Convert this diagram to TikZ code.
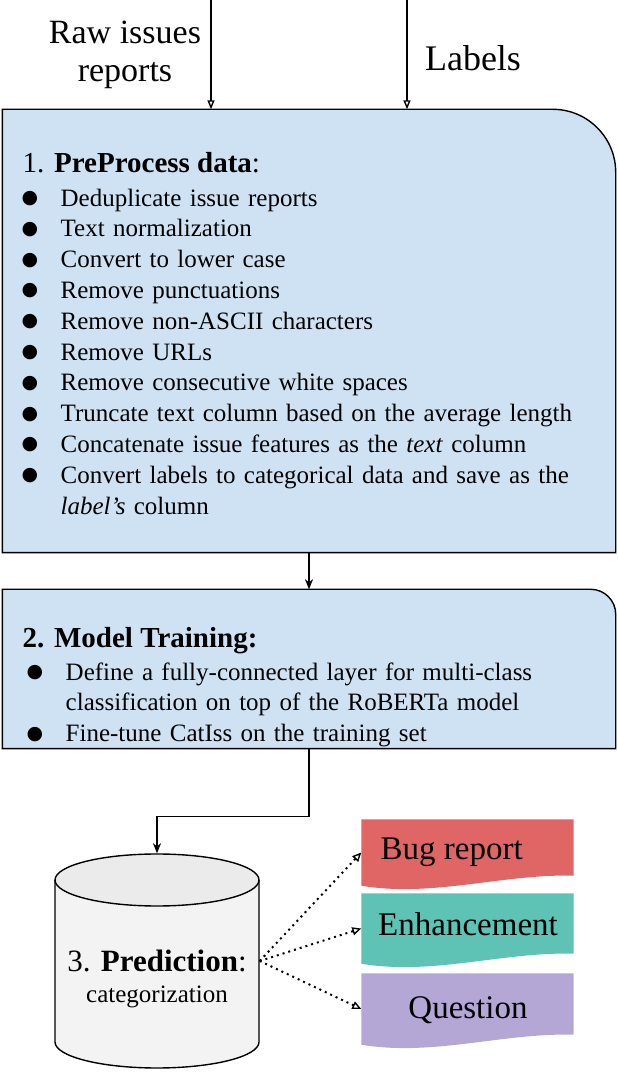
\documentclass[tikz,border=0pt]{standalone}
\usepackage{fontspec}
\setmainfont{Liberation Serif}
\newfontfamily\symfont{DejaVu Sans}
\usepackage{tikz}
\usetikzlibrary{arrows.meta}

\definecolor{stageblue}{HTML}{CFE2F3}
\definecolor{bugred}{HTML}{E06666}
\definecolor{enhteal}{HTML}{5EC3B5}
\definecolor{quepurple}{HTML}{B4A7D6}
\definecolor{cylgray}{HTML}{F3F3F3}
\definecolor{cyltop}{HTML}{EBEBEB}

\newcommand{\itemfont}{\fontsize{25}{30.8}\selectfont}
\newcommand{\titlefont}{\fontsize{29}{35}\selectfont}
\newcommand{\bigfont}{\fontsize{31}{38}\selectfont}
\newcommand{\docfont}{\fontsize{33}{40}\selectfont}
% one bullet line, wrapped lines hang under the text
\newcommand{\bul}{\par\hangindent=38pt\hangafter=1\noindent\strut
  \makebox[38pt][l]{\hspace{-1pt}\raisebox{2.5pt}{\symfont\fontsize{19}{19}\selectfont ●}}}

\begin{document}
\begin{tikzpicture}[x=1pt, y=1pt, line width=1.4pt,
    stagebox/.style={draw=none, minimum width=612pt, inner sep=0pt},
    stageline/.style={draw=black, fill=stageblue},
    listtext/.style={anchor=north west, inner sep=0pt, text width=585pt, align=left, font=\itemfont},
    inarrow/.style={-{Triangle[open, length=9pt, width=7pt]}},
    flowarrow/.style={-{Stealth[length=10pt, width=8pt, inset=3pt]}},
    outarrow/.style={line width=2pt, dash pattern=on 2pt off 4pt, -{Triangle[open, length=9pt, width=8pt, line width=1.4pt]}},
    docbox/.style={draw=none, minimum width=211pt, inner sep=0pt},
    doclabel/.style={anchor=base, inner sep=0pt, font=\docfont}]
  \useasboundingbox (0,0) rectangle (618,1072);

  % inputs
  \node[anchor=base, inner sep=0pt, font=\fontsize{34}{40}\selectfont] (raw) at (125,1028) {Raw issues};
  \node[anchor=base, inner sep=0pt, font=\fontsize{34}{40}\selectfont] (rawb) at (125,990) {reports};
  \node[anchor=base, inner sep=0pt, font=\fontsize{36}{42}\selectfont] (lab) at (473,1001) {Labels};

  % stage 1
  \node[stagebox, minimum height=442pt] (pre) at (309,741) {};
  \draw[stageline] (pre.south west) -- (pre.north west) -- ([xshift=-63pt]pre.north east)
    arc[start angle=90, end angle=0, radius=63pt] -- (pre.south east) -- cycle;
  \node[anchor=base west, inner sep=0pt, font=\titlefont] (pretitle) at (22,899)
    {1. \textbf{PreProcess data}:};
  \node[listtext] (prelist) at (22,897.4) {%
    \bul Deduplicate issue reports
    \bul Text normalization
    \bul Convert to lower case
    \bul Remove punctuations
    \bul Remove non-ASCII characters
    \bul Remove URLs
    \bul Remove consecutive white spaces
    \bul Truncate text column based on the average length
    \bul Concatenate issue features as the \textit{text} column
    \bul Convert labels to categorical data and save as the\newline
         \textit{label's} column\par};

  \coordinate (rawin) at (211,1072);
  \coordinate (labin) at (407,1072);
  \draw[inarrow] (rawin) -- (rawin |- pre.north);
  \draw[inarrow] (labin) -- (labin |- pre.north);

  % stage 2
  \node[stagebox, minimum height=158pt] (mt) at (309,403) {};
  \draw[stageline] (mt.south west) -- (mt.north west) -- ([xshift=-25pt]mt.north east)
    arc[start angle=90, end angle=0, radius=25pt] -- (mt.south east) -- cycle;
  \node[anchor=base west, inner sep=0pt, font=\titlefont] (mttitle) at (22,424)
    {\textbf{2. Model Training:}};
  \node[listtext] (mtlist) at (27,423.4) {%
    \bul Define a fully-connected layer for multi-class\newline
         classification on top of the RoBERTa model
    \bul Fine-tune CatIss on the training set\par};

  \draw[flowarrow] (pre.south) -- (mt.north);

  % stage 3, the cylinder
  \node[draw=none, minimum width=204pt, minimum height=214pt, inner sep=0pt] (db) at (157,111) {};
  \fill[cylgray] (55,192) -- (55,30) arc[start angle=180, end angle=360, x radius=102pt, y radius=26pt]
    -- (259,192) -- cycle;
  \draw (55,192) -- (55,30) arc[start angle=180, end angle=360, x radius=102pt, y radius=26pt]
    -- (259,192);
  \draw[fill=cyltop] (157,192) ellipse[x radius=102pt, y radius=26pt];
  \node[anchor=base, inner sep=0pt, font=\bigfont] (predtitle) at (157,100)
    {3. \textbf{Prediction}:};
  \node[anchor=base, inner sep=0pt, font=\itemfont] (predsub) at (157,69) {categorization};

  \draw[flowarrow] (mt.south) -- ++(0,-68) -| (db.north);

  % categories
  \node[docbox, minimum height=65pt] (bug) at (467.5,219.5) {};
  \node[docbox, minimum height=69pt] (enh) at (467.5,143.5) {};
  \node[docbox, minimum height=70pt] (que) at (467.5,63) {};
  \foreach \d/\c in {bug/bugred, enh/enhteal, que/quepurple}{
    \fill[\c] (\d.south west) -- (\d.north west) -- (\d.north east) -- ([yshift=10pt]\d.south east)
      .. controls ([xshift=-71pt, yshift=12pt]\d.south east)
      and ([xshift=-141pt, yshift=-12pt]\d.south east) .. (\d.south west) -- cycle;
  }
  \node[doclabel, anchor=base west] (bugtxt) at (380,212) {Bug report};
  \node[doclabel] (enhtxt) at (468,136) {Enhancement};
  \node[doclabel] (quetxt) at (468,53) {Question};

  \draw[outarrow] (db.east) -- (bug.west);
  \draw[outarrow] (db.east) -- (enh.west);
  \draw[outarrow] (db.east) -- (que.west);
\end{tikzpicture}
\end{document}
